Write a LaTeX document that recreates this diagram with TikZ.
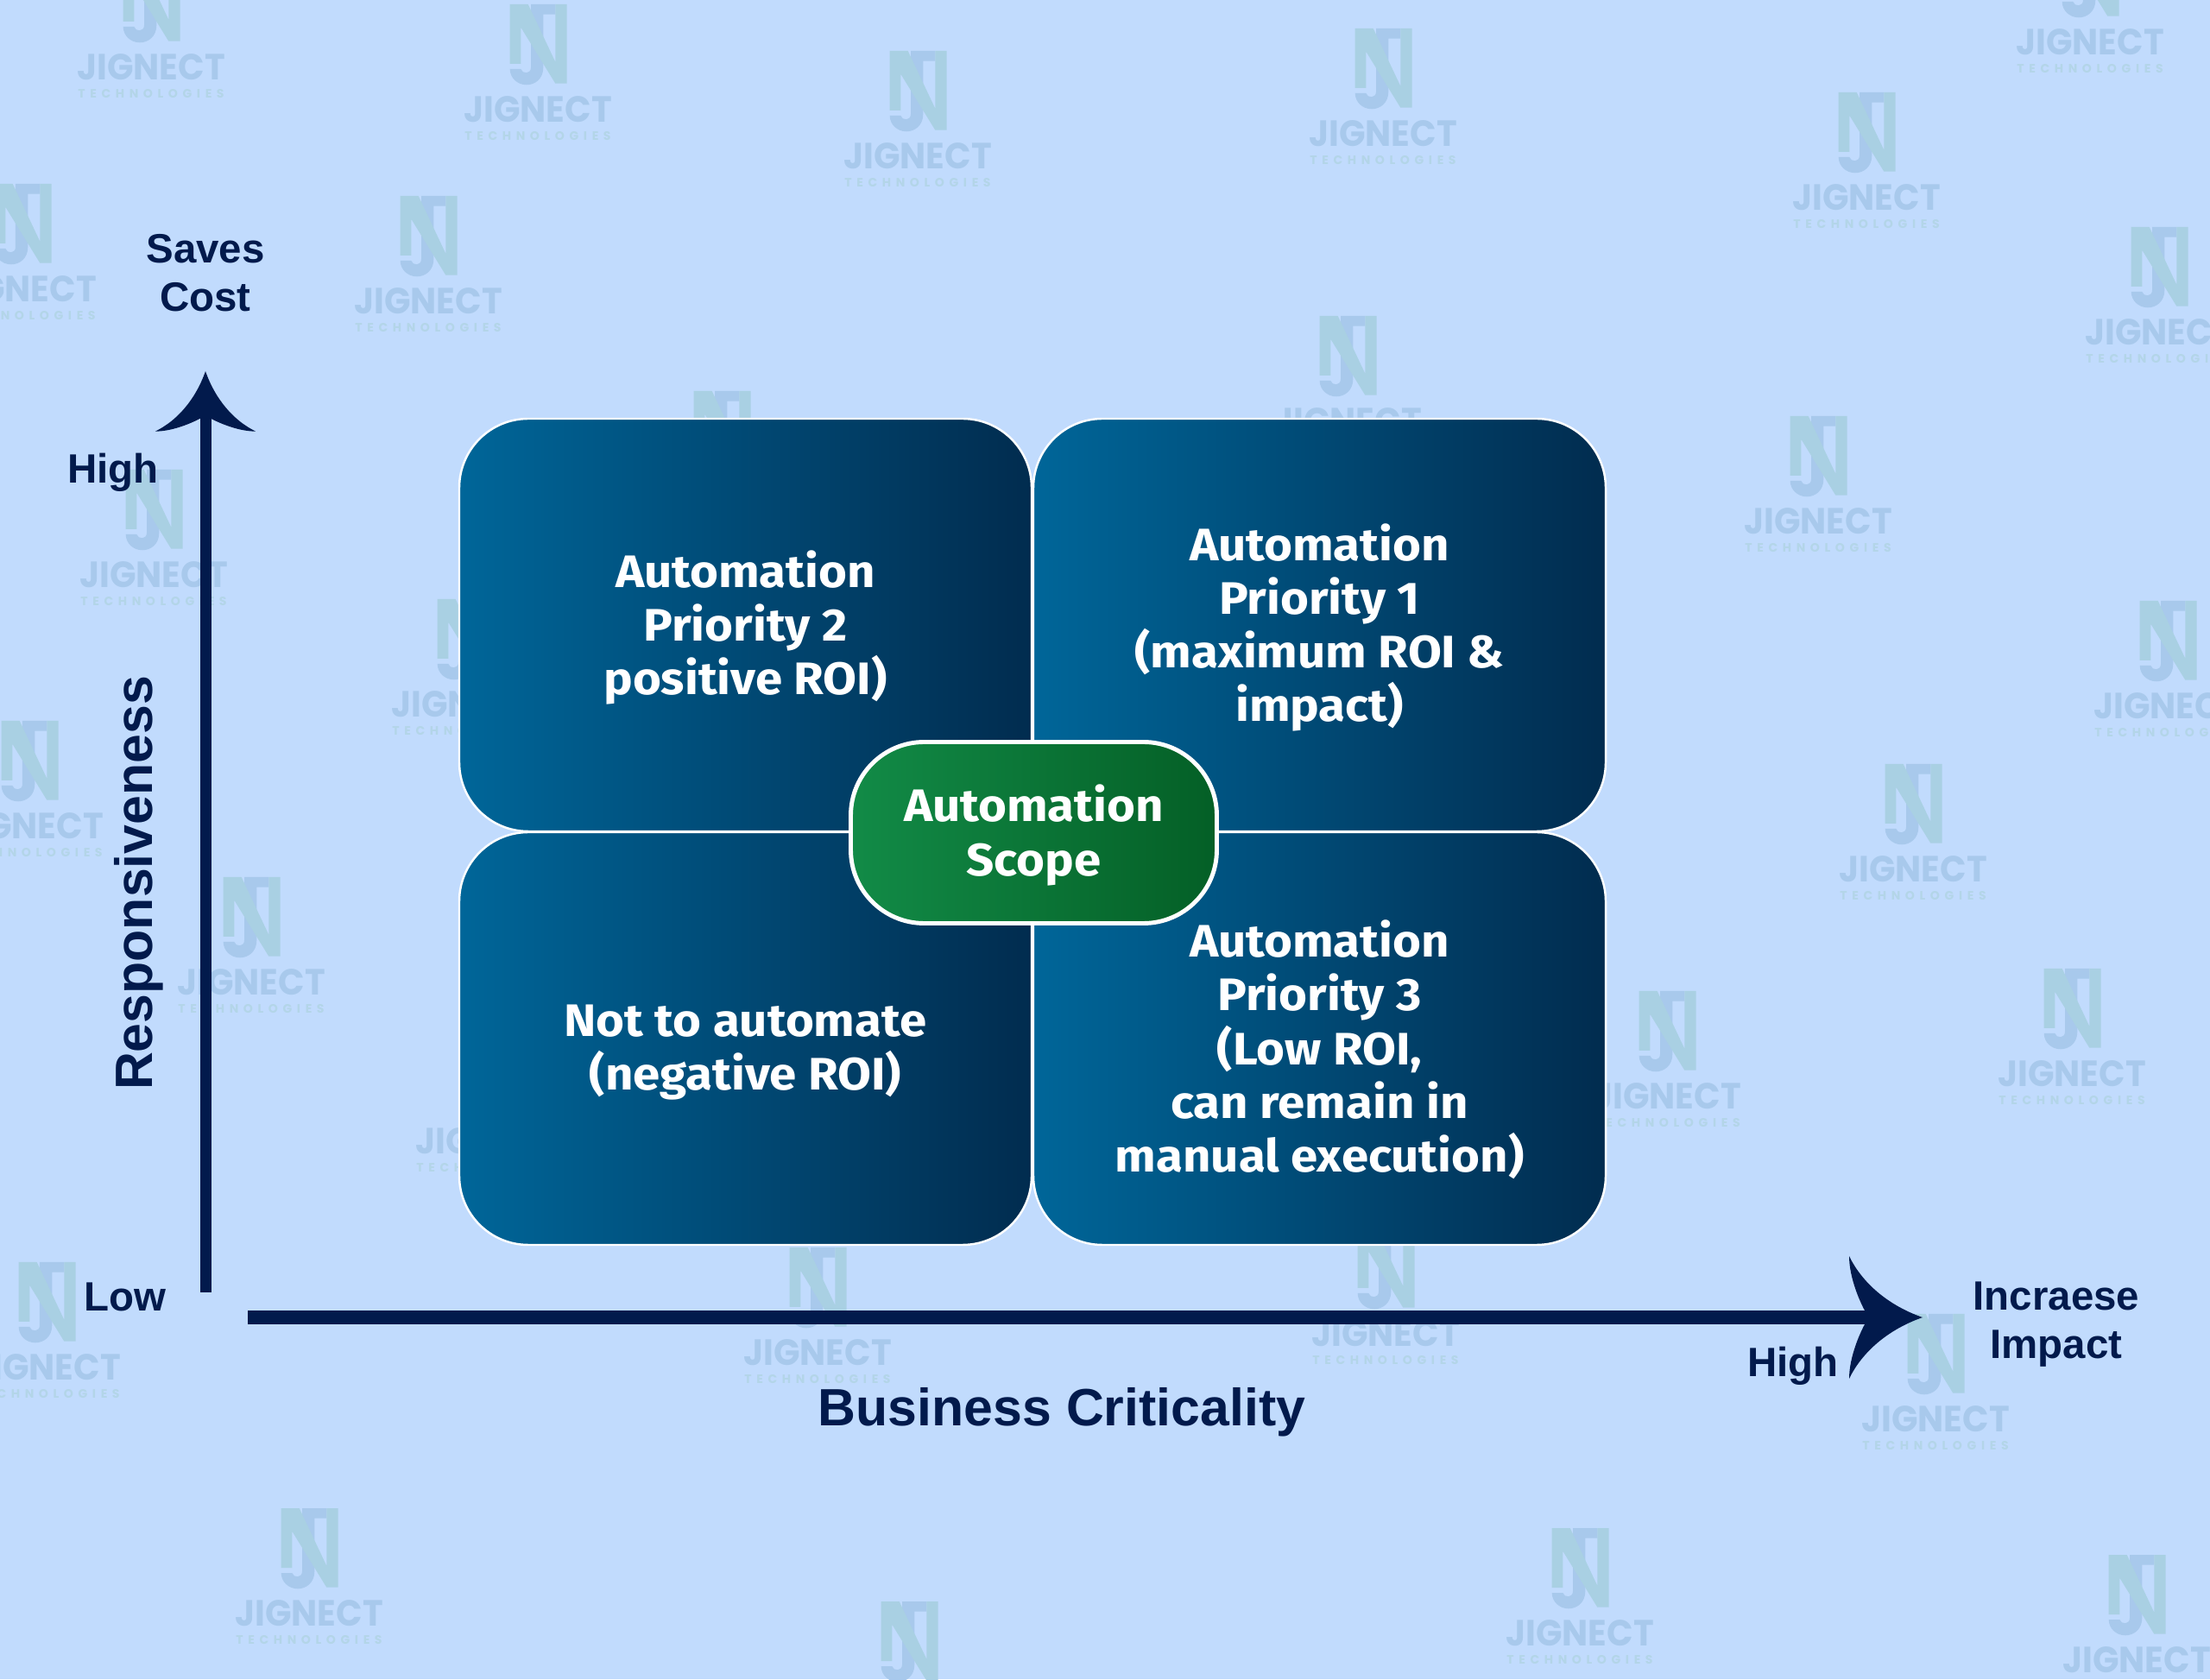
\documentclass[tikz,border=0pt]{standalone}
\usepackage{fontspec}
\usetikzlibrary{positioning}
\setmainfont{Liberation Sans}
\newfontfamily\boxfont[FakeStretch=1.07]{Fira Sans}
\newfontfamily\wmfont[FakeStretch=0.95]{Poppins}
\newfontfamily\wmsmall[LetterSpace=40]{Poppins}
\definecolor{pagebg}{HTML}{C1DBFD}
\definecolor{axisdark}{HTML}{021A4C}
\definecolor{wmblue}{HTML}{A8C9EC}
\definecolor{wmteal}{HTML}{A9D0E3}
\definecolor{wmpale}{HTML}{B3D5E8}
\definecolor{boxleft}{HTML}{006699}
\definecolor{boxright}{HTML}{012C4F}
\definecolor{scopeleft}{HTML}{128B47}
\definecolor{scoperight}{HTML}{045F26}
\tikzset{
  quadbox/.style={draw=white,line width=0.7pt,rounded corners=0.8cm,left color=boxleft,right color=boxright,
    minimum width=6.63cm,minimum height=4.78cm,inner sep=0,outer sep=0},
  scopebox/.style={draw=white,line width=1.4pt,rounded corners=0.85cm,left color=scopeleft,right color=scoperight,
    minimum width=4.24cm,minimum height=2.10cm,inner sep=0,outer sep=0},
  quadtext/.style={text=white,align=center,inner sep=0,font=\boxfont\bfseries\fontsize{15}{17.7}\selectfont},
  axislabel/.style={text=axisdark,align=center,inner sep=0,font=\bfseries\fontsize{13.5}{15.9}\selectfont},
  axistitle/.style={text=axisdark,inner sep=0,font=\bfseries\fontsize{17.3}{20}\selectfont},
  axisline/.style={draw=axisdark},
  axishead/.pic={
    \fill[axisdark] (0,0) .. controls (-.4,.14) and (-.7,.4) .. (-.85,.71)
      .. controls (-.85,.5) and (-.76,.25) .. (-.67,.08) -- (-.67,-.08)
      .. controls (-.76,-.25) and (-.85,-.5) .. (-.85,-.71)
      .. controls (-.7,-.4) and (-.4,-.14) .. (0,0) -- cycle;
  },
  wmark/.pic={
    % J part, then N over it
    \fill[wmblue] (-.08,1.22) -- (.203,1.22) -- (.203,1.103) -- (.063,1.103) -- (.063,.487)
      .. controls (.063,.36) and (-.03,.287) .. (-.13,.287)
      .. controls (-.24,.287) and (-.323,.37) .. (-.323,.47) -- (-.197,.47)
      .. controls (-.18,.41) and (-.08,.41) .. (-.08,.487) -- cycle;
    \fill[wmteal] (-.323,1.22) -- (-.113,1.22) -- (.203,.553) -- (.203,1.22) -- (.337,1.22) -- (.337,.303)
      -- (.203,.303) -- (-.197,.953) -- (-.197,.53) -- (-.323,.53) -- cycle;
    \node[text=wmblue,inner sep=0,font=\wmfont\bfseries\fontsize{12}{12}\selectfont] (name) at (0,0) {JIGNECT};
    \node[text=wmpale,inner sep=0,font=\wmsmall\bfseries\fontsize{4}{4}\selectfont] (sub) at (0,-.31) {TECHNOLOGIES};
  },
}

\begin{document}
\begin{tikzpicture}
    \useasboundingbox (0,0) rectangle (25.6,19.45);
    \fill[pagebg] (0,0) rectangle (25.6,19.45);

    % Watermarks
    \foreach \x/\y [count=\i] in {1.75/18.67,6.23/18.18,10.63/17.64,16.02/17.90,24.21/18.96,21.62/17.16,
        4.96/15.96,0.26/16.10,25.01/15.60,15.61/14.57,8.36/13.70,21.06/13.41,1.78/12.79,25.11/11.27,
        5.39/11.29,0.34/9.88,22.16/9.38,2.91/8.07,19.31/6.75,24.00/7.01,5.67/6.23,0.54/3.61,9.47/3.78,
        16.05/4.00,22.42/3.01,3.58/0.76,18.30/0.53,10.53/-0.32,24.75/0.22} {
        \pic (wm\i) at (\x,\y) {wmark};
    }

    % Quadrants
    \node[quadbox] (tl) at (8.635,12.21) {};
    \node[quadbox] (tr) at (15.285,12.21) {};
    \node[quadbox] (bl) at (8.635,7.42) {};
    \node[quadbox] (br) at (15.285,7.42) {};
    \node[quadtext,yshift=-0.03cm] (tltext) at (tl.center) {Automation\\Priority 2\\positive ROI)};
    \node[quadtext,yshift=-0.03cm] (trtext) at (tr.center) {Automation\\Priority 1\\(maximum ROI \&\\impact)};
    \node[quadtext,yshift=-0.16cm] (bltext) at (bl.center) {Not to automate\\(negative ROI)};
    \node[quadtext,yshift=-0.13cm] (brtext) at (br.center) {Automation\\Priority 3\\(Low ROI,\\can remain in\\manual execution)};

    % Centre
    \node[scopebox] (scope) at (11.975,9.805) {};
    \node[quadtext,yshift=-0.03cm] (scopetext) at (scope.center) {Automation\\Scope};

    % Axes
    \coordinate (ybase) at (2.38,4.48);
    \coordinate (ytip) at (2.38,15.15);
    \coordinate (xbase) at (2.87,4.19);
    \coordinate (xtip) at (22.27,4.19);
    \draw[axisline,line width=3.7pt,shorten >=0.4cm] (ybase) -- (ytip);
    \draw[axisline,line width=4.5pt,shorten >=0.4cm] (xbase) -- (xtip);
    \pic[rotate=90,scale=0.82] (yhead) at (ytip) {axishead};
    \pic (xhead) at (xtip) {axishead};

    % Axis labels
    \node[axislabel] (cost) at (2.38,16.29) {Saves\\Cost};
    \node[axislabel] (yhigh) at (1.31,13.98) {High};
    \node[axislabel] (ylow) at (1.45,4.43) {Low};
    \node[axislabel] (xhigh) at (20.77,3.63) {High};
    \node[axislabel] (impact) at (23.82,4.11) {Incraese\\Impact};
    \node[axistitle,rotate=90] (ytitle) at (1.61,9.22) {Responsiveness};
    \node[axistitle] (xtitle) at (12.30,3.09) {Business Criticality};
\end{tikzpicture}
\end{document}
